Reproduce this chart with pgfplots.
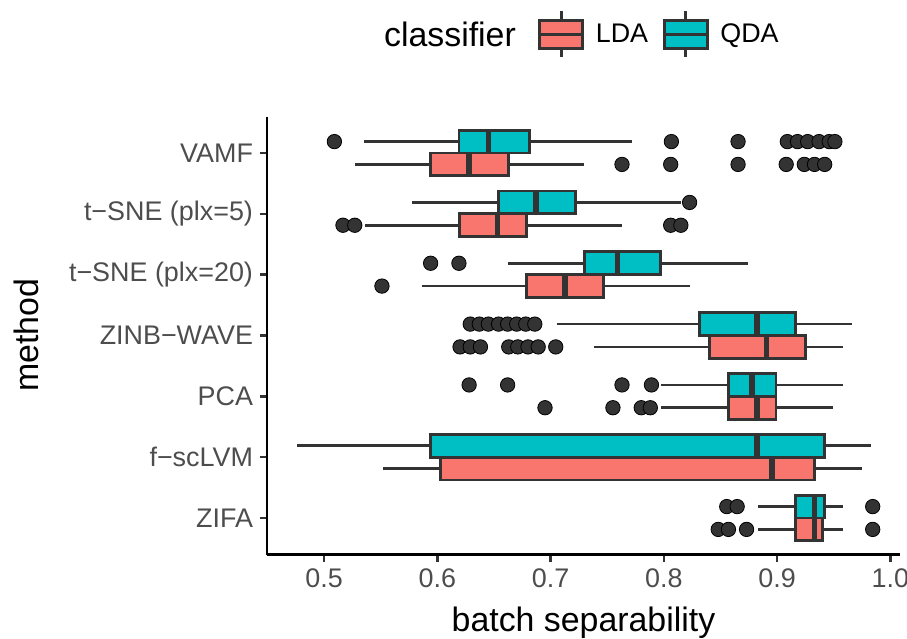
\documentclass[border=0pt]{standalone}
\usepackage{pgfplots}
\pgfplotsset{compat=1.18}
\usepgfplotslibrary{statistics}
\usepackage{fontspec}
\setmainfont{Liberation Sans}
\definecolor{lda}{HTML}{F8766D}
\definecolor{qda}{HTML}{00BFC4}
\definecolor{dk}{HTML}{333333}
\definecolor{tk}{HTML}{4D4D4D}
\newcommand{\bx}[7]{%
  \addplot[boxplot prepared={draw position=#1, lower whisker=#3, lower quartile=#4,
    median=#5, upper quartile=#6, upper whisker=#7},
    draw=dk, fill=#2, line width=1.4bp, forget plot] coordinates {};}
\pgfplotsset{
  ldaleg/.style={legend image code/.code={
    \draw[line width=1.4bp, draw=dk, fill=lda] (0bp,-7bp) rectangle (21.5bp,7bp);
    \draw[line width=1.4bp, dk] (0bp,0bp)--(21.5bp,0bp) (10.75bp,7bp)--(10.75bp,11.5bp) (10.75bp,-7bp)--(10.75bp,-11.5bp);}},
  qdaleg/.style={legend image code/.code={
    \draw[line width=1.4bp, draw=dk, fill=qda] (0bp,-7bp) rectangle (21.5bp,7bp);
    \draw[line width=1.4bp, dk] (0bp,0bp)--(21.5bp,0bp) (10.75bp,7bp)--(10.75bp,11.5bp) (10.75bp,-7bp)--(10.75bp,-11.5bp);}},
}
\begin{document}
\begin{tikzpicture}
\useasboundingbox (-133.5bp,-42.25bp) rectangle (320bp,277.25bp);
\begin{axis}[
  scale only axis, width=316.5bp, height=219bp,
  xmin=0.4495, xmax=1.0085, ymin=0.4, ymax=7.6,
  axis x line*=bottom, axis y line*=left,
  axis line style={line width=1.4bp, black},
  xtick={0.5,0.6,0.7,0.8,0.9,1.0},
  xticklabels={0.5,0.6,0.7,0.8,0.9,1.0},
  ytick={1,2,3,4,5,6,7},
  yticklabels={{ZIFA},{f−scLVM},{PCA},{ZINB−WAVE},{t−SNE (plx=20)},{t−SNE (plx=5)},{VAMF}},
  tick align=outside, major tick length=3.5bp,
  tick style={dk, line width=1.2bp},
  ticklabel style={font=\fontsize{13.5}{16}\selectfont, text=tk},
  xlabel={batch separability}, ylabel={method},
  label style={font=\fontsize{17}{20}\selectfont},
  xlabel style={at={(axis description cs:0.5,-0.1747)}, anchor=base},
  ylabel style={at={(axis description cs:-0.3613,0.5)}, anchor=base},
  boxplot/draw direction=x,
  boxplot/box extend=0.375,
  boxplot/whisker extend=0,
  boxplot/every median/.style={line width=2.8bp},
  legend style={at={(axis description cs:0.4286,1.1877)}, anchor=west,
    draw=none, fill=none, inner sep=0pt, outer sep=0pt,
    font=\fontsize{13.5}{16}\selectfont,
    nodes={inner sep=0pt},
    /tikz/every odd column/.append style={column sep=5.85bp},
    /tikz/every even column/.append style={column sep=7.35bp}},
  legend columns=-1,
]
\addlegendimage{ldaleg}\addlegendentry{LDA}
\addlegendimage{qdaleg}\addlegendentry{QDA}
% VAMF
\bx{7.1875}{qda}{0.535}{0.619}{0.645}{0.681}{0.7715}
\bx{6.8125}{lda}{0.527}{0.594}{0.628}{0.6625}{0.7295}
% t-SNE plx=5
\bx{6.1875}{qda}{0.5777}{0.6536}{0.6868}{0.7218}{0.815}
\bx{5.8125}{lda}{0.5357}{0.6197}{0.653}{0.6787}{0.763}
% t-SNE plx=20
\bx{5.1875}{qda}{0.6625}{0.7299}{0.759}{0.7973}{0.8739}
\bx{4.8125}{lda}{0.5861}{0.6787}{0.7129}{0.7468}{0.8227}
% ZINB-WAVE
\bx{4.1875}{qda}{0.7052}{0.8316}{0.882}{0.9163}{0.966}
\bx{3.8125}{lda}{0.7387}{0.84}{0.8905}{0.9248}{0.958}
% PCA
\bx{3.1875}{qda}{0.7977}{0.8573}{0.8776}{0.899}{0.958}
\bx{2.8125}{lda}{0.7977}{0.8573}{0.882}{0.899}{0.9495}
% f-scLVM
\bx{2.1875}{qda}{0.476}{0.594}{0.882}{0.942}{0.9833}
\bx{1.8125}{lda}{0.5523}{0.6024}{0.8953}{0.9329}{0.975}
% ZIFA
\bx{1.1875}{qda}{0.883}{0.9163}{0.9329}{0.942}{0.958}
\bx{0.8125}{lda}{0.883}{0.9163}{0.9329}{0.9402}{0.958}
% outliers
\addplot[only marks, mark=*, mark size=3.6bp, mark options={fill=dk, draw=none}, forget plot] coordinates {
 (0.509,7.1875) (0.8066,7.1875) (0.8655,7.1875) (0.909,7.1875) (0.918,7.1875) (0.927,7.1875) (0.937,7.1875) (0.946,7.1875) (0.951,7.1875)
 (0.763,6.8125) (0.806,6.8125) (0.8655,6.8125) (0.908,6.8125) (0.924,6.8125) (0.933,6.8125) (0.942,6.8125)
 (0.8227,6.1875)
 (0.5166,5.8125) (0.527,5.8125) (0.806,5.8125) (0.815,5.8125)
 (0.594,5.1875) (0.619,5.1875)
 (0.551,4.8125)
 (0.629,4.1875) (0.637,4.1875) (0.645,4.1875) (0.654,4.1875) (0.662,4.1875) (0.670,4.1875) (0.678,4.1875) (0.686,4.1875)
 (0.620,3.8125) (0.629,3.8125) (0.638,3.8125) (0.663,3.8125) (0.671,3.8125) (0.680,3.8125) (0.689,3.8125) (0.7045,3.8125)
 (0.628,3.1875) (0.662,3.1875) (0.763,3.1875) (0.789,3.1875)
 (0.695,2.8125) (0.755,2.8125) (0.780,2.8125) (0.788,2.8125)
 (0.8555,1.1875) (0.8647,1.1875) (0.9844,1.1875)
 (0.848,0.8125) (0.857,0.8125) (0.873,0.8125) (0.9844,0.8125)
};
\end{axis}
\node[anchor=base, font=\fontsize{17}{20}\selectfont] at (91.5bp,253.9bp) {classifier};
\end{tikzpicture}
\end{document}
